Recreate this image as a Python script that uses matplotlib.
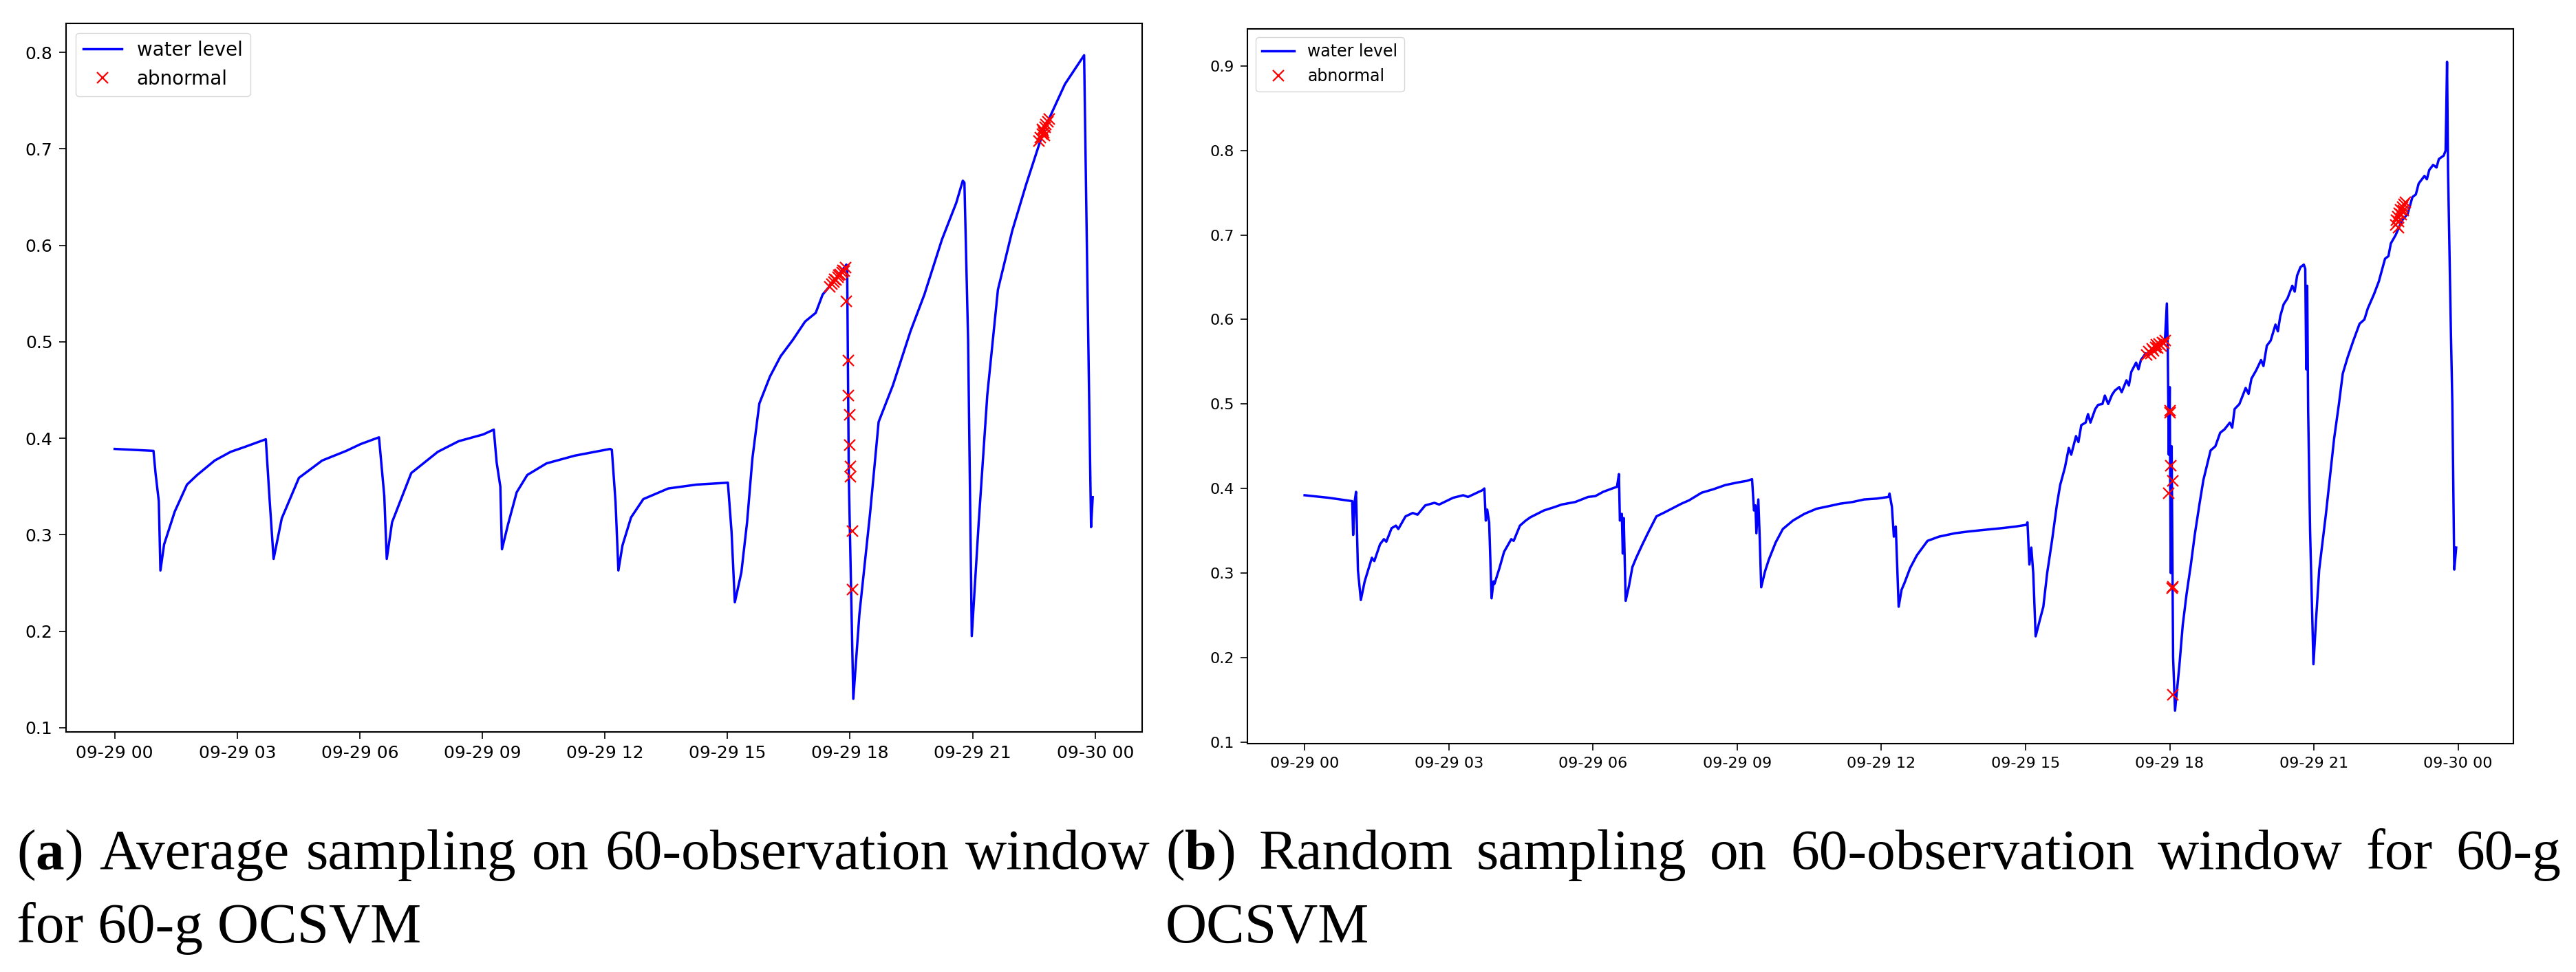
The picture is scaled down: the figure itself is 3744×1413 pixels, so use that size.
import datetime as dt
import matplotlib
matplotlib.use("Agg")
import matplotlib.pyplot as plt
import matplotlib.dates as mdates

# ---- data (hours after 09-29 00:00, water level) ----
avg_hours = [0.00, 0.95, 1.00, 1.08, 1.12, 1.21, 1.47, 1.77, 2.02, 2.45, 2.84, 3.18, 3.70,
             3.79, 3.89, 4.09, 4.51, 5.08, 5.67, 6.02, 6.47, 6.60, 6.66, 6.79, 7.26, 7.91,
             8.42, 9.02, 9.28, 9.35, 9.44, 9.48, 9.63, 9.84, 10.10, 10.57, 11.26, 12.13,
             12.17, 12.26, 12.33, 12.43, 12.64, 12.94, 13.55, 14.24, 15.01, 15.10, 15.18,
             15.34, 15.48, 15.61, 15.78, 16.04, 16.30, 16.60, 16.90, 17.16, 17.33, 17.59,
             17.91, 17.93, 17.97, 18.08, 18.23, 18.49, 18.70, 19.05, 19.48, 19.82, 20.25,
             20.60, 20.76, 20.80, 20.89, 20.98, 21.15, 21.36, 21.62, 21.97, 22.31, 22.74,
             23.26, 23.73, 23.79, 23.90, 23.94]
avg_level = [0.389, 0.387, 0.364, 0.335, 0.263, 0.290, 0.324, 0.352, 0.362, 0.377, 0.386, 0.391,
             0.399, 0.338, 0.275, 0.317, 0.359, 0.377, 0.387, 0.394, 0.401, 0.340, 0.275, 0.313,
             0.364, 0.386, 0.397, 0.404, 0.409, 0.375, 0.350, 0.285, 0.311, 0.344, 0.362, 0.374,
             0.382, 0.389, 0.388, 0.334, 0.263, 0.289, 0.318, 0.337, 0.348, 0.352, 0.354, 0.303,
             0.230, 0.261, 0.313, 0.379, 0.436, 0.464, 0.485, 0.502, 0.521, 0.530, 0.549, 0.562,
             0.580, 0.575, 0.360, 0.130, 0.218, 0.322, 0.417, 0.455, 0.511, 0.549, 0.606, 0.644,
             0.667, 0.665, 0.502, 0.195, 0.313, 0.445, 0.554, 0.615, 0.663, 0.719, 0.767, 0.797,
             0.620, 0.308, 0.339]

avg_ab_hours = [17.50, 17.55, 17.60, 17.63, 17.66, 17.70, 17.73, 17.76, 17.80, 17.83, 17.86,
                17.89, 17.91, 17.96, 17.96, 17.99, 17.99, 18.01, 18.01, 18.06, 18.06,
                22.62, 22.66, 22.70, 22.72, 22.75, 22.78, 22.80, 22.84, 22.88, 22.70, 22.76]
avg_ab_level = [0.557, 0.560, 0.562, 0.565, 0.564, 0.567, 0.569, 0.570, 0.572, 0.574, 0.573,
                0.577, 0.542, 0.481, 0.444, 0.424, 0.393, 0.371, 0.360, 0.304, 0.243,
                0.708, 0.712, 0.715, 0.719, 0.717, 0.722, 0.725, 0.728, 0.731, 0.720, 0.714]

rnd_hours = [0.00, 0.50, 0.99, 1.01, 1.04, 1.07, 1.11, 1.17, 1.25, 1.32, 1.40, 1.45, 1.57, 1.65,
             1.70, 1.81, 1.90, 1.95, 2.10, 2.25, 2.35, 2.51, 2.70, 2.80, 3.09, 3.30, 3.40, 3.70,
             3.74, 3.77, 3.80, 3.84, 3.89, 3.93, 3.95, 4.05, 4.15, 4.30, 4.35, 4.48, 4.60, 4.70,
             4.98, 5.20, 5.35, 5.63, 5.90, 6.05, 6.21, 6.40, 6.50, 6.54, 6.56, 6.60, 6.62, 6.64,
             6.68, 6.75, 6.82, 6.90, 7.03, 7.15, 7.32, 7.50, 7.84, 8.00, 8.26, 8.50, 8.75, 9.00,
             9.20, 9.31, 9.35, 9.38, 9.40, 9.44, 9.47, 9.50, 9.58, 9.66, 9.80, 9.95, 10.16, 10.40,
             10.65, 10.90, 11.14, 11.40, 11.64, 11.90, 12.15, 12.17, 12.22, 12.26, 12.30, 12.36,
             12.42, 12.48, 12.60, 12.74, 12.96, 13.20, 13.53, 13.80, 14.14, 14.50, 14.80, 15.02,
             15.04, 15.08, 15.12, 15.16, 15.21, 15.30, 15.37, 15.45, 15.55, 15.65, 15.72, 15.82,
             15.90, 15.95, 16.05, 16.10, 16.16, 16.25, 16.30, 16.35, 16.45, 16.51, 16.60, 16.65,
             16.72, 16.80, 16.86, 16.95, 17.00, 17.10, 17.15, 17.20, 17.30, 17.35, 17.40, 17.50,
             17.55, 17.65, 17.80, 17.90, 17.94, 17.96, 17.98, 18.00, 18.02, 18.04, 18.07, 18.11,
             18.20, 18.27, 18.35, 18.44, 18.52, 18.62, 18.70, 18.79, 18.85, 18.95, 19.05, 19.14,
             19.25, 19.30, 19.35, 19.45, 19.58, 19.64, 19.70, 19.80, 19.90, 19.95, 20.02, 20.10,
             20.20, 20.25, 20.30, 20.37, 20.45, 20.55, 20.60, 20.65, 20.72, 20.79, 20.82, 20.84,
             20.86, 20.88, 20.92, 20.99, 21.05, 21.11, 21.25, 21.42, 21.52, 21.60, 21.70, 21.82,
             21.95, 22.05, 22.12, 22.25, 22.35, 22.48, 22.55, 22.60, 22.70, 22.83, 22.95, 23.05,
             23.12, 23.18, 23.30, 23.35, 23.40, 23.48, 23.55, 23.60, 23.70, 23.74, 23.77, 23.79,
             23.83, 23.85, 23.88, 23.92, 23.96]
rnd_level = [0.392, 0.389, 0.385, 0.345, 0.384, 0.396, 0.303, 0.268, 0.290, 0.303, 0.318, 0.314,
             0.334, 0.340, 0.337, 0.353, 0.356, 0.352, 0.367, 0.371, 0.369, 0.380, 0.383, 0.381,
             0.389, 0.392, 0.390, 0.398, 0.400, 0.362, 0.375, 0.360, 0.270, 0.290, 0.287, 0.305,
             0.325, 0.340, 0.338, 0.356, 0.362, 0.366, 0.374, 0.378, 0.381, 0.384, 0.390, 0.391,
             0.396, 0.400, 0.402, 0.417, 0.362, 0.370, 0.323, 0.365, 0.267, 0.285, 0.307, 0.318,
             0.334, 0.348, 0.367, 0.372, 0.382, 0.386, 0.395, 0.399, 0.404, 0.407, 0.409, 0.411,
             0.374, 0.380, 0.347, 0.387, 0.340, 0.283, 0.302, 0.316, 0.336, 0.352, 0.362, 0.370,
             0.376, 0.379, 0.382, 0.384, 0.387, 0.388, 0.390, 0.394, 0.378, 0.343, 0.355, 0.260,
             0.280, 0.288, 0.306, 0.321, 0.338, 0.343, 0.347, 0.349, 0.351, 0.353, 0.355, 0.357,
             0.360, 0.310, 0.330, 0.300, 0.225, 0.245, 0.260, 0.300, 0.338, 0.380, 0.404, 0.425,
             0.448, 0.440, 0.462, 0.455, 0.475, 0.478, 0.488, 0.478, 0.494, 0.499, 0.500, 0.510,
             0.500, 0.511, 0.516, 0.520, 0.514, 0.528, 0.522, 0.538, 0.549, 0.541, 0.552, 0.560,
             0.556, 0.566, 0.571, 0.575, 0.619, 0.560, 0.440, 0.520, 0.300, 0.450, 0.200, 0.137,
             0.190, 0.238, 0.275, 0.310, 0.345, 0.382, 0.410, 0.431, 0.445, 0.450, 0.466, 0.470,
             0.478, 0.472, 0.494, 0.500, 0.519, 0.512, 0.530, 0.540, 0.552, 0.545, 0.569, 0.575,
             0.594, 0.586, 0.604, 0.618, 0.625, 0.640, 0.633, 0.652, 0.662, 0.665, 0.660, 0.541,
             0.640, 0.492, 0.350, 0.192, 0.250, 0.304, 0.370, 0.459, 0.500, 0.536, 0.555, 0.575,
             0.595, 0.600, 0.613, 0.630, 0.645, 0.672, 0.675, 0.690, 0.700, 0.717, 0.725, 0.745,
             0.748, 0.761, 0.770, 0.766, 0.777, 0.783, 0.780, 0.790, 0.794, 0.800, 0.905, 0.778,
             0.651, 0.585, 0.500, 0.304, 0.330]

rnd_ab_hours = [17.52, 17.56, 17.60, 17.63, 17.66, 17.70, 17.72, 17.75, 17.78, 17.82, 17.85,
                17.88, 17.91, 18.00, 18.01, 18.02, 18.07, 17.98, 18.05, 18.06, 18.07,
                22.70, 22.72, 22.74, 22.76, 22.78, 22.80, 22.82, 22.84, 22.86, 22.88, 22.90, 22.76]
rnd_ab_level = [0.558, 0.562, 0.560, 0.565, 0.563, 0.567, 0.570, 0.566, 0.571, 0.569, 0.573,
                0.572, 0.575, 0.492, 0.490, 0.427, 0.409, 0.394, 0.282, 0.284, 0.156,
                0.712, 0.718, 0.722, 0.716, 0.726, 0.730, 0.724, 0.733, 0.729, 0.736, 0.739, 0.709]

caption_a = ("a", "Average sampling on 60-observation window", "for 60-g OCSVM")
caption_b = ("b", "Random sampling on 60-observation window for 60-g", "OCSVM")

base = dt.datetime(2021, 9, 29)
W, H = 3744, 1413
CAP_FONT = "Liberation Serif"
CAP_SIZE = 60


def to_dates(hours):
    return [base + dt.timedelta(hours=h) for h in hours]


def draw_panel(ax, hours, level, ab_hours, ab_level, ylim, yticks, fs, lfs):
    ax.plot(to_dates(hours), level, color="blue", lw=2.5, label="water level")
    ax.plot(to_dates(ab_hours), ab_level, "x", color="red", ms=11, mew=1.6,
            label="abnormal", linestyle="none")
    ax.set_xlim(base + dt.timedelta(hours=-1.19), base + dt.timedelta(hours=25.15))
    ax.set_ylim(*ylim)
    ax.set_yticks(yticks)
    ax.xaxis.set_major_locator(mdates.HourLocator(byhour=range(0, 24, 3)))
    ax.xaxis.set_major_formatter(mdates.DateFormatter("%m-%d %H"))
    ax.tick_params(labelsize=fs, length=7, width=1.2, pad=7)
    for s in ax.spines.values():
        s.set_linewidth(1.5)
    ax.legend(loc="upper left", fontsize=lfs)


def text_width(fig, renderer, s, weight="normal"):
    t = fig.text(0, 0, s, fontsize=CAP_SIZE, family=CAP_FONT, fontweight=weight)
    w = t.get_window_extent(renderer).width
    t.remove()
    return w


def draw_caption(fig, renderer, x0, x1, y1, y2, cap):
    # first line is justified between x0 and x1 (pixels), like the LaTeX caption
    pieces = [("(", "normal"), (cap[0], "bold"), (")", "normal")]
    x = x0
    for s, wgt in pieces:
        fig.text(x / W, y1, s, fontsize=CAP_SIZE, family=CAP_FONT, fontweight=wgt)
        x += text_width(fig, renderer, s, wgt)
    words = cap[1].split()
    widths = [text_width(fig, renderer, w) for w in words]
    gap = (x1 - x - sum(widths)) / len(words)
    for w, wd in zip(words, widths):
        x += gap
        fig.text(x / W, y1, w, fontsize=CAP_SIZE, family=CAP_FONT)
        x += wd
    fig.text(x0 / W, y2, cap[2], fontsize=CAP_SIZE, family=CAP_FONT)


fig = plt.figure(figsize=(W / 100, H / 100), dpi=100)
ax1 = fig.add_axes([96 / W, 1 - 1064 / H, 1564 / W, 1030 / H])
ax2 = fig.add_axes([1813 / W, 1 - 1081 / H, 1840 / W, 1039 / H])

draw_panel(ax1, avg_hours, avg_level, avg_ab_hours, avg_ab_level,
           (0.0957, 0.830), [0.1, 0.2, 0.3, 0.4, 0.5, 0.6, 0.7, 0.8], 18, 20)
draw_panel(ax2, rnd_hours, rnd_level, rnd_ab_hours, rnd_ab_level,
           (0.098, 0.944), [0.1, 0.2, 0.3, 0.4, 0.5, 0.6, 0.7, 0.8, 0.9], 16, 17)

renderer = fig.canvas.get_renderer()
draw_caption(fig, renderer, 24, 1672, 1 - 1263 / H, 1 - 1370 / H, caption_a)
draw_caption(fig, renderer, 1694, 3722, 1 - 1263 / H, 1 - 1370 / H, caption_b)

fig.savefig("out.png", dpi=100)
